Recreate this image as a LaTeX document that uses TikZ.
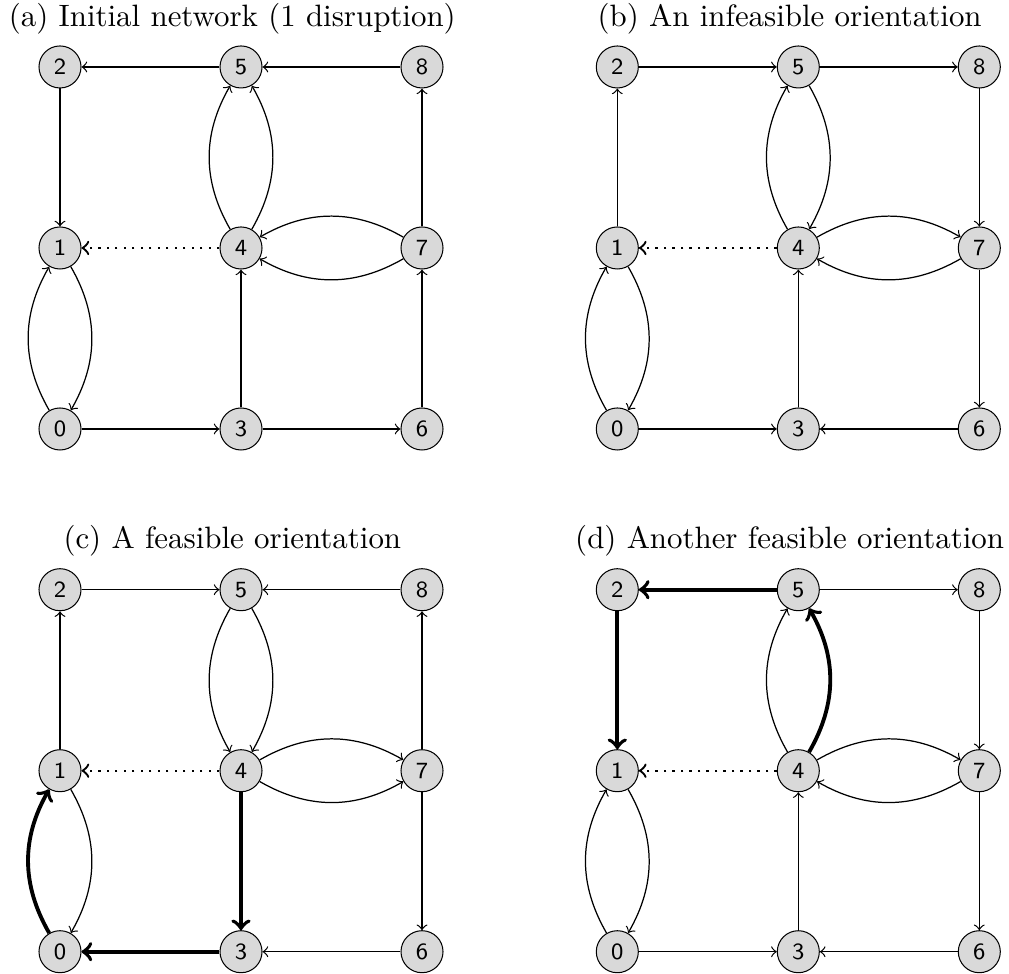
\documentclass[tikz,border=0pt]{standalone}
\begin{document}
\begin{tikzpicture}[x=58.57pt,y=58.57pt,line width=0.4pt,
  vx/.style={circle,draw,line width=0.33pt,fill=gray!30,minimum size=13.6pt,inner sep=0pt,font=\sffamily\fontsize{7.5}{8}\selectfont},
  hl/.style={line width=1.25pt},
  cut/.style={dotted,line width=0.75pt}]
\useasboundingbox(-0.3315,-3.011)rectangle(5.243,2.370);
%
% (a)
\begin{scope}
\node[anchor=base](atitle)at(0.952,2.225){(a) Initial network (1 disruption)};
\node[vx](a2)at(0,2){2}; \node[vx](a5)at(1,2){5}; \node[vx](a8)at(2,2){8};
\node[vx](a1)at(0,1){1}; \node[vx](a4)at(1,1){4}; \node[vx](a7)at(2,1){7};
\node[vx](a0)at(0,0){0}; \node[vx](a3)at(1,0){3}; \node[vx](a6)at(2,0){6};
\draw[->](a5)--(a2); \draw[->](a8)--(a5); \draw[->](a2)--(a1);
\draw[->,cut](a4)--(a1);
\draw[->](a4)to[bend left](a5); \draw[->](a4)to[bend right](a5);
\draw[->](a7)to[bend right](a4); \draw[->](a7)to[bend left](a4);
\draw[->](a7)--(a8); \draw[->](a6)--(a7); \draw[->](a3)--(a4);
\draw[->](a0)--(a3); \draw[->](a3)--(a6);
\draw[->](a0)to[bend left](a1); \draw[->](a1)to[bend left](a0);
\end{scope}
%
% (b)
\begin{scope}[shift={(3.079,0)}]
\node[anchor=base](btitle)at(0.952,2.225){(b) An infeasible orientation};
\node[vx](b2)at(0,2){2}; \node[vx](b5)at(1,2){5}; \node[vx](b8)at(2,2){8};
\node[vx](b1)at(0,1){1}; \node[vx](b4)at(1,1){4}; \node[vx](b7)at(2,1){7};
\node[vx](b0)at(0,0){0}; \node[vx](b3)at(1,0){3}; \node[vx](b6)at(2,0){6};
\draw[->](b2)--(b5); \draw[->](b5)--(b8); \draw[->](b1)--(b2);
\draw[->,cut](b4)--(b1);
\draw[->](b4)to[bend left](b5); \draw[->](b5)to[bend left](b4);
\draw[->](b4)to[bend left](b7); \draw[->](b7)to[bend left](b4);
\draw[->](b8)--(b7); \draw[->](b7)--(b6); \draw[->](b3)--(b4);
\draw[->](b0)--(b3); \draw[->](b6)--(b3);
\draw[->](b0)to[bend left](b1); \draw[->](b1)to[bend left](b0);
\end{scope}
%
% (c)
\begin{scope}[shift={(0,-2.888)}]
\node[anchor=base](ctitle)at(0.952,2.225){(c) A feasible orientation};
\node[vx](c2)at(0,2){2}; \node[vx](c5)at(1,2){5}; \node[vx](c8)at(2,2){8};
\node[vx](c1)at(0,1){1}; \node[vx](c4)at(1,1){4}; \node[vx](c7)at(2,1){7};
\node[vx](c0)at(0,0){0}; \node[vx](c3)at(1,0){3}; \node[vx](c6)at(2,0){6};
\draw[->](c2)--(c5); \draw[->](c8)--(c5); \draw[->](c1)--(c2);
\draw[->,cut](c4)--(c1);
\draw[->](c5)to[bend right](c4); \draw[->](c5)to[bend left](c4);
\draw[->](c4)to[bend left](c7); \draw[->](c4)to[bend right](c7);
\draw[->](c7)--(c8); \draw[->](c7)--(c6); \draw[->](c6)--(c3);
\draw[->,hl](c4)--(c3); \draw[->,hl](c3)--(c0);
\draw[->,hl](c0)to[bend left](c1); \draw[->](c1)to[bend left](c0);
\end{scope}
%
% (d)
\begin{scope}[shift={(3.079,-2.888)}]
\node[anchor=base](dtitle)at(0.952,2.225){(d) Another feasible orientation};
\node[vx](d2)at(0,2){2}; \node[vx](d5)at(1,2){5}; \node[vx](d8)at(2,2){8};
\node[vx](d1)at(0,1){1}; \node[vx](d4)at(1,1){4}; \node[vx](d7)at(2,1){7};
\node[vx](d0)at(0,0){0}; \node[vx](d3)at(1,0){3}; \node[vx](d6)at(2,0){6};
\draw[->,hl](d5)--(d2); \draw[->,hl](d2)--(d1); \draw[->](d5)--(d8);
\draw[->,cut](d4)--(d1);
\draw[->](d4)to[bend left](d5); \draw[->,hl](d4)to[bend right](d5);
\draw[->](d4)to[bend left](d7); \draw[->](d7)to[bend left](d4);
\draw[->](d8)--(d7); \draw[->](d7)--(d6); \draw[->](d3)--(d4);
\draw[->](d0)--(d3); \draw[->](d6)--(d3);
\draw[->](d0)to[bend left](d1); \draw[->](d1)to[bend left](d0);
\end{scope}
\end{tikzpicture}
\end{document}
